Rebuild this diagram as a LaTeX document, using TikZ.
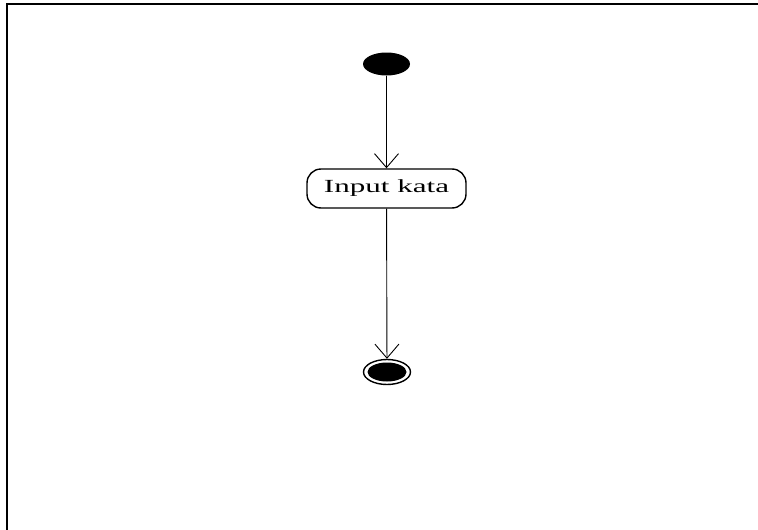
\documentclass[tikz,border=0pt]{standalone}
\usepackage{fontspec}
\setmainfont{Liberation Serif}
\usetikzlibrary{arrows.meta,shapes.geometric}
\begin{document}
\begin{tikzpicture}[x=1pt,y=-1pt,
  flow/.style={line width=0.9pt,-{Straight Barb[length=14pt,width=24pt,line width=0.9pt]}},
  startnode/.style={ellipse,fill=black,minimum width=47pt,minimum height=23pt,inner sep=0pt},
  actbox/.style={draw,rounded corners=14pt,line width=1.4pt,minimum width=159pt,minimum height=39pt,inner sep=0pt,font=\fontsize{18.5}{20}\selectfont}
]
\useasboundingbox (0,0) rectangle (758,530);
\draw[line width=2pt] (7,530) -- (7,4) -- (758,4);
\node[startnode] (start) at (386.5,64) {};
\node[actbox] (act) at (386.5,188.5) {\scalebox{1.68}[1]{Input kata}};
\node[ellipse,draw,line width=1.4pt,minimum width=47pt,minimum height=25pt,inner sep=0pt] (end) at (387,372) {};
\node[ellipse,fill=black,minimum width=39pt,minimum height=19pt,inner sep=0pt] (endin) at (end.center) {};
\draw[flow] (start) -- (act);
\draw[flow] (act) -- (end);
\end{tikzpicture}
\end{document}
